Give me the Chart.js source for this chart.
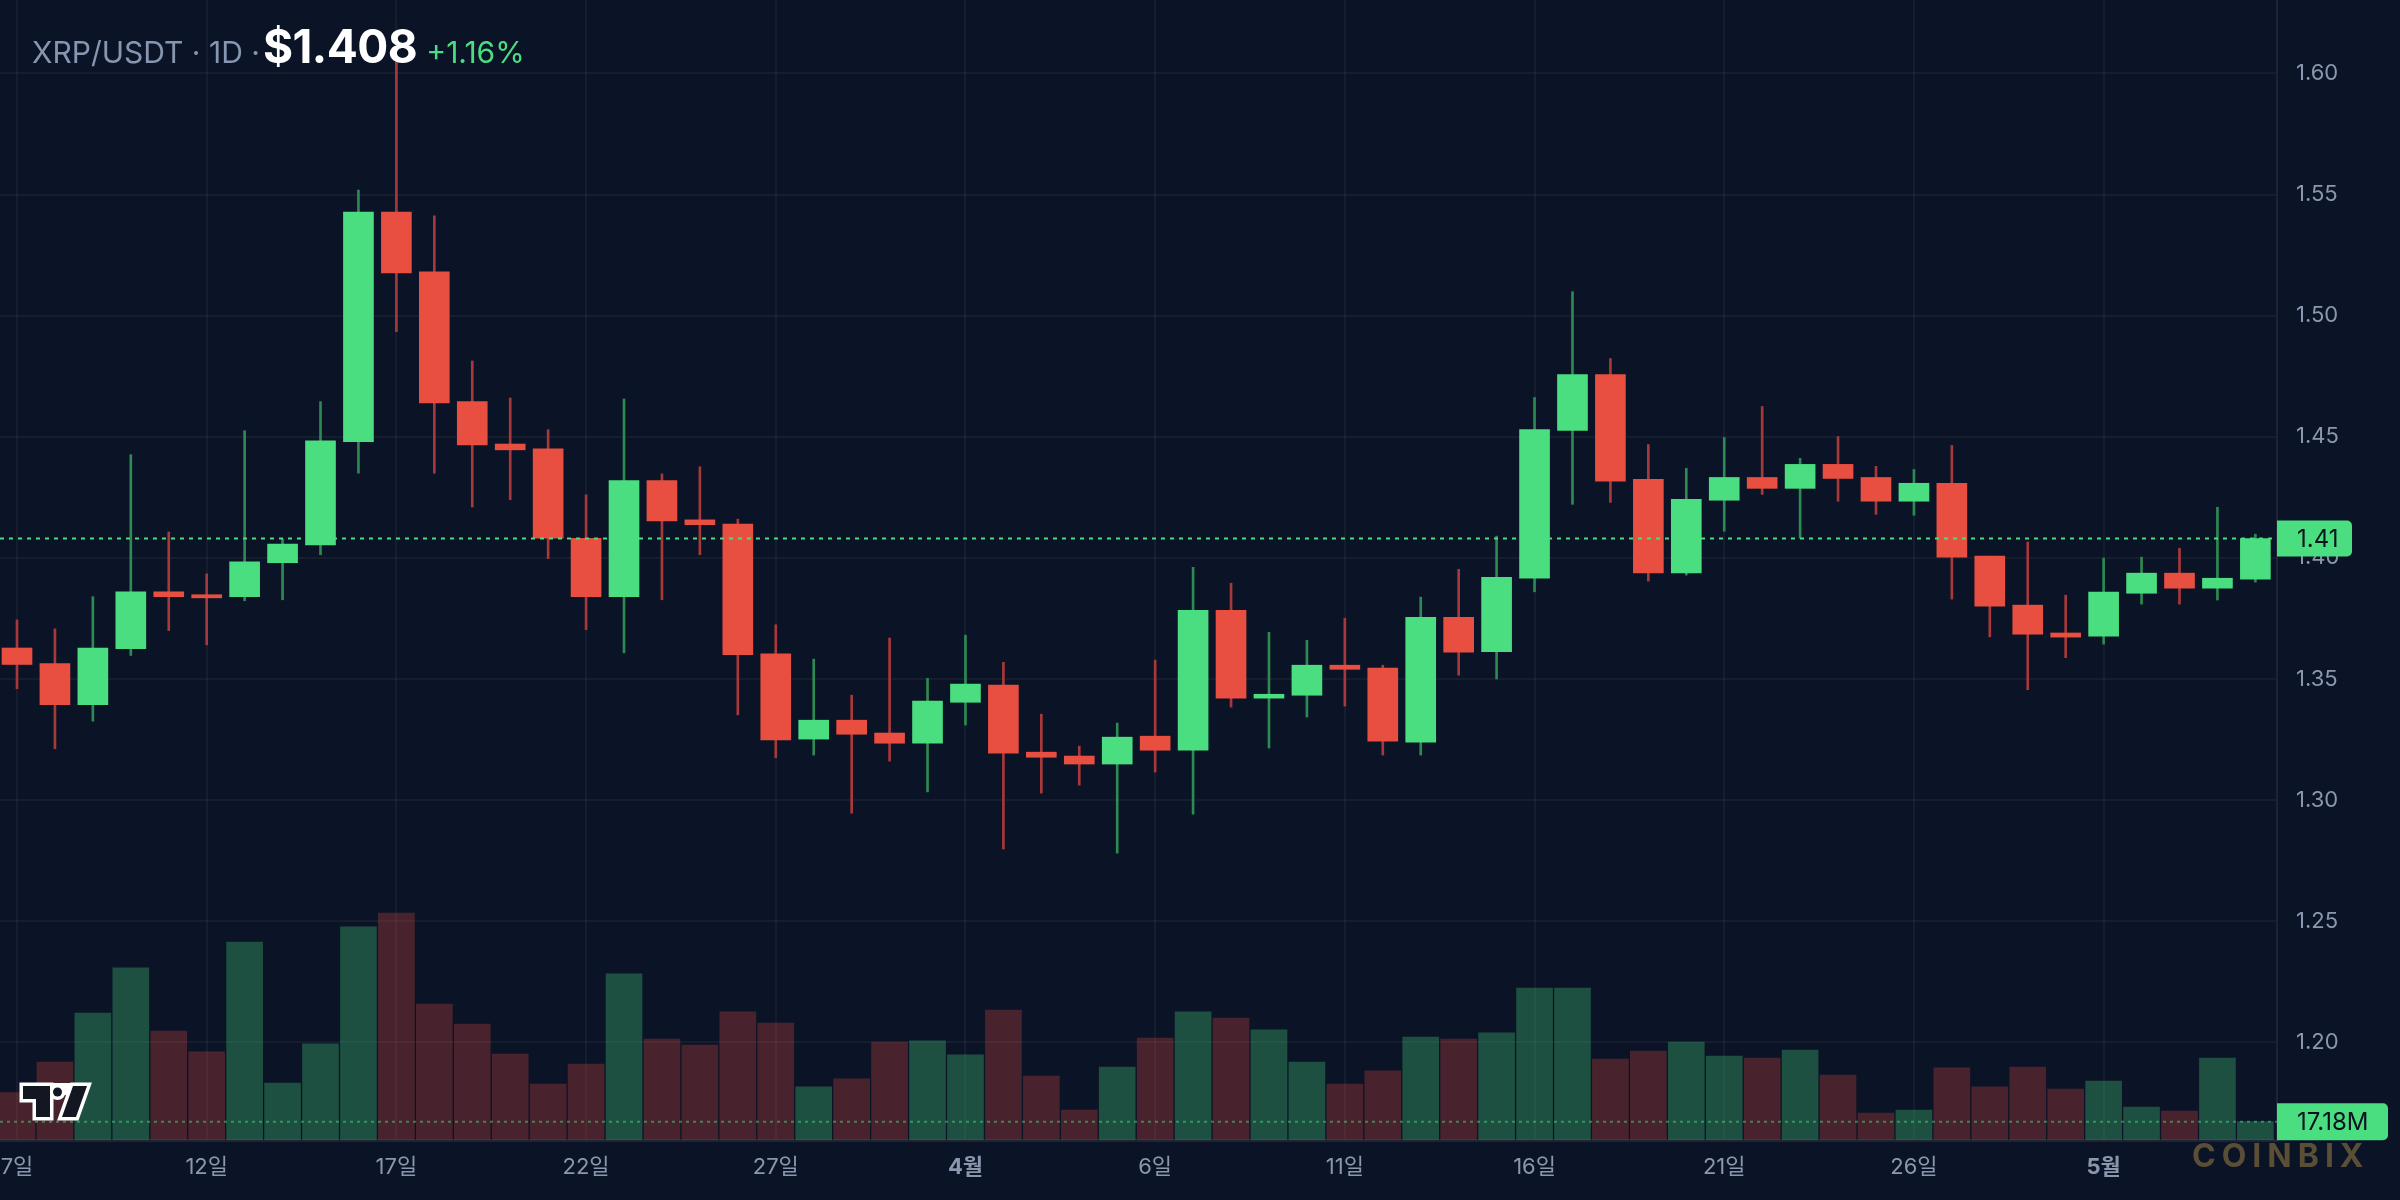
<!DOCTYPE html>
<html lang="ko">
<head>
<meta charset="utf-8">
<title>XRP/USDT 1D</title>
<script src="https://cdn.jsdelivr.net/npm/chart.js@4.4.1/dist/chart.umd.min.js"></script>
<style>
  html, body { margin: 0; padding: 0; background: #0b1326; }
  #wrap { position: relative; width: 2400px; height: 1200px; overflow: hidden; background: #0b1326; }
  #chart { display: block; }
  .title {
    position: absolute; left: 32px; top: 23px;
    font-family: Inter, "Noto Sans", sans-serif; line-height: 46px; white-space: nowrap;
  }
  .title .pair { font-size: 30px; color: #8796b0; }
  .title .price { font-size: 46px; font-weight: 700; color: #ffffff; margin: 0 9px 0 3px; letter-spacing: -0.5px; }
  .title .change { font-size: 30px; color: #4ade80; }
  .watermark {
    position: absolute; left: 2192px; top: 1137px;
    font-family: Inter, "Noto Sans", sans-serif; font-size: 32px; font-weight: 700;
    letter-spacing: 6px; color: #5b4e36; line-height: 38px;
  }
</style>
</head>
<body>
<div id="wrap">
  <canvas id="chart" width="2400" height="1200"></canvas>
  <div class="title"><span class="pair">XRP/USDT · 1D ·</span><span class="price">$1.408</span><span class="change">+1.16%</span></div>
  <div class="watermark">COINBIX</div>
</div>
<script>
// one candle per day, 7 Mar -> 5 May
const dates = [
  '03-07', '03-08', '03-09', '03-10', '03-11', '03-12', '03-13', '03-14', '03-15', '03-16',
  '03-17', '03-18', '03-19', '03-20', '03-21', '03-22', '03-23', '03-24', '03-25', '03-26',
  '03-27', '03-28', '03-29', '03-30', '03-31', '04-01', '04-02', '04-03', '04-04', '04-05',
  '04-06', '04-07', '04-08', '04-09', '04-10', '04-11', '04-12', '04-13', '04-14', '04-15',
  '04-16', '04-17', '04-18', '04-19', '04-20', '04-21', '04-22', '04-23', '04-24', '04-25',
  '04-26', '04-27', '04-28', '04-29', '04-30', '05-01', '05-02', '05-03', '05-04', '05-05',
];

const opens = [
  1.3628, 1.3564, 1.3394, 1.3625, 1.3860, 1.3848, 1.3840, 1.3980, 1.4054, 1.4480,
  1.5428, 1.5181, 1.4645, 1.4470, 1.4450, 1.4081, 1.3840, 1.4319, 1.4157, 1.4140,
  1.3604, 1.3252, 1.3330, 1.3277, 1.3235, 1.3404, 1.3475, 1.3198, 1.3182, 1.3149,
  1.3264, 1.3206, 1.3784, 1.3421, 1.3433, 1.3557, 1.3545, 1.3239, 1.3755, 1.3613,
  1.3916, 1.4526, 1.4757, 1.4324, 1.3938, 1.4238, 1.4332, 1.4287, 1.4386, 1.4332,
  1.4234, 1.4308, 1.4007, 1.3805, 1.3690, 1.3677, 1.3854, 1.3937, 1.3875, 1.3912,
];
const highs = [
  1.3744, 1.3707, 1.3840, 1.4426, 1.4107, 1.3934, 1.4525, 1.4078, 1.4645, 1.5518,
  1.6052, 1.5412, 1.4813, 1.4660, 1.4529, 1.4260, 1.4656, 1.4347, 1.4376, 1.4160,
  1.3724, 1.3582, 1.3433, 1.3669, 1.3503, 1.3681, 1.3569, 1.3355, 1.3223, 1.3318,
  1.3578, 1.3961, 1.3895, 1.3693, 1.3660, 1.3751, 1.3557, 1.3838, 1.3953, 1.4090,
  1.4662, 1.5099, 1.4823, 1.4468, 1.4370, 1.4497, 1.4625, 1.4411, 1.4501, 1.4378,
  1.4365, 1.4464, 1.4007, 1.4065, 1.3846, 1.3999, 1.4003, 1.4040, 1.4209, 1.4098,
];
const lows = [
  1.3460, 1.3212, 1.3326, 1.3597, 1.3700, 1.3641, 1.3823, 1.3827, 1.4013, 1.4350,
  1.4934, 1.4350, 1.4210, 1.4240, 1.3997, 1.3704, 1.3608, 1.3827, 1.4013, 1.3352,
  1.3175, 1.3186, 1.2946, 1.3161, 1.3034, 1.3310, 1.2798, 1.3029, 1.3062, 1.2781,
  1.3116, 1.2942, 1.3384, 1.3215, 1.3343, 1.3388, 1.3186, 1.3186, 1.3516, 1.3500,
  1.3860, 1.4221, 1.4229, 1.3904, 1.3929, 1.4110, 1.4262, 1.4082, 1.4234, 1.4180,
  1.4176, 1.3830, 1.3674, 1.3456, 1.3588, 1.3644, 1.3809, 1.3809, 1.3826, 1.3900,
];
const closes = [
  1.3560, 1.3394, 1.3628, 1.3860, 1.3840, 1.3835, 1.3984, 1.4057, 1.4483, 1.5428,
  1.5176, 1.4640, 1.4466, 1.4446, 1.4081, 1.3840, 1.4319, 1.4153, 1.4137, 1.3600,
  1.3249, 1.3330, 1.3272, 1.3235, 1.3409, 1.3479, 1.3194, 1.3177, 1.3149, 1.3260,
  1.3206, 1.3784, 1.3421, 1.3437, 1.3557, 1.3540, 1.3243, 1.3755, 1.3611, 1.3920,
  1.4530, 1.4757, 1.4317, 1.3938, 1.4242, 1.4332, 1.4287, 1.4386, 1.4328, 1.4234,
  1.4308, 1.4003, 1.3801, 1.3685, 1.3673, 1.3859, 1.3937, 1.3875, 1.3916, 1.4080,
];
// volume in millions
const volumes = [
  44.4, 73.1, 119.0, 161.2, 102.1, 82.5, 185.5, 53.4, 90.0, 199.6,
  212.7, 127.4, 108.7, 80.6, 52.5, 71.2, 155.6, 94.6, 89.0, 120.0,
  109.6, 49.7, 57.2, 91.8, 92.8, 79.7, 121.8, 60.0, 28.1, 68.4,
  95.6, 120.0, 114.3, 103.1, 73.1, 52.5, 64.7, 96.5, 94.6, 100.3,
  142.4, 142.4, 75.9, 83.4, 91.8, 78.7, 76.8, 84.3, 60.9, 25.3,
  28.1, 67.5, 49.7, 68.4, 47.8, 55.3, 30.9, 27.2, 76.8, 17.18,
];

const xTickIndex = [0, 5, 10, 15, 20, 25, 30, 35, 40, 45, 50, 55];
const xTickLabels = ['7일', '12일', '17일', '22일', '27일', '4월', '6일', '11일', '16일', '21일', '26일', '5월'];
const monthTicks = ['4월', '5월'];
const priceTicks = [1.20, 1.25, 1.30, 1.35, 1.40, 1.45, 1.50, 1.55, 1.60];

const GREEN = '#4ade80';
const RED = '#e84f40';
const GRID = 'rgba(255, 255, 255, 0.045)';
const AXIS = '#1c2436';
const LABEL = '#8b97ae';
const FONT = 'Inter, "Noto Sans CJK KR", sans-serif';

const isUp = i => closes[i] >= opens[i];

const overlay = {
  id: 'overlay',
  afterDatasetsDraw(chart) {
    const { ctx, chartArea, scales } = chart;
    const py = scales.y.getPixelForValue(closes.at(-1));
    const vy = scales.yVol.getPixelForValue(volumes.at(-1));
    ctx.save();
    ctx.lineWidth = 2;
    ctx.setLineDash([4, 5]);
    ctx.strokeStyle = GREEN;
    ctx.beginPath();
    ctx.moveTo(chartArea.left, py);
    ctx.lineTo(chartArea.right, py);
    ctx.stroke();

    ctx.setLineDash([3, 4]);
    ctx.strokeStyle = 'rgba(74, 222, 128, 0.5)';
    ctx.beginPath();
    ctx.moveTo(chartArea.left, vy);
    ctx.lineTo(chartArea.right, vy);
    ctx.stroke();
    ctx.restore();
  },
  afterDraw(chart) {
    const { ctx, chartArea, scales } = chart;
    const py = scales.y.getPixelForValue(closes.at(-1));
    const vy = scales.yVol.getPixelForValue(volumes.at(-1));
    const left = chartArea.right;

    ctx.save();
    ctx.fillStyle = GREEN;
    ctx.beginPath();
    ctx.roundRect(left, py - 18, 75, 36, [0, 5, 5, 0]);
    ctx.fill();
    ctx.beginPath();
    ctx.roundRect(left, vy - 18.5, 111, 37, [0, 5, 5, 0]);
    ctx.fill();

    ctx.fillStyle = '#0b1220';
    ctx.font = `24px ${FONT}`;
    ctx.textBaseline = 'middle';
    ctx.fillText(closes.at(-1).toFixed(2), left + 20, py + 1);
    ctx.fillText(`${volumes.at(-1).toFixed(2)}M`, left + 20, vy + 1);

    // small tv logo, bottom left
    const shapes = new Path2D();
    shapes.rect(23, 1086, 27, 13);
    shapes.rect(36, 1086, 14, 31);
    shapes.moveTo(73, 1086);
    shapes.lineTo(87, 1086);
    shapes.lineTo(76, 1117);
    shapes.lineTo(62, 1117);
    shapes.closePath();
    const dot = new Path2D();
    dot.arc(57.5, 1092, 4.5, 0, Math.PI * 2);
    ctx.lineJoin = 'miter';
    ctx.strokeStyle = '#ffffff';
    ctx.lineWidth = 7;
    ctx.stroke(shapes);
    ctx.stroke(dot);
    ctx.fillStyle = '#ffffff';
    ctx.fillRect(48, 1083, 30, 12);
    ctx.fillStyle = '#131722';
    ctx.fill(shapes);
    ctx.fill(dot);
    ctx.restore();
  },
};

new Chart(document.getElementById('chart'), {
  type: 'bar',
  data: {
    datasets: [
      {
        label: 'Body',
        data: dates.map((d, i) => ({ x: i, y: [opens[i], closes[i]] })),
        backgroundColor: dates.map((d, i) => (isUp(i) ? GREEN : RED)),
        barThickness: 30,
        minBarLength: 3,
        grouped: false,
        order: 1,
        yAxisID: 'y',
      },
      {
        label: 'Wick',
        data: dates.map((d, i) => ({ x: i, y: [lows[i], highs[i]] })),
        backgroundColor: dates.map((d, i) => (isUp(i) ? '#2c8a52' : '#a8393a')),
        barThickness: 2,
        grouped: false,
        order: 2,
        yAxisID: 'y',
      },
      {
        label: 'Volume',
        data: dates.map((d, i) => ({ x: i, y: volumes[i] })),
        backgroundColor: dates.map((d, i) => (isUp(i) ? 'rgba(74, 222, 128, 0.3)' : 'rgba(232, 78, 64, 0.28)')),
        barThickness: 36,
        grouped: false,
        order: 3,
        yAxisID: 'yVol',
      },
    ],
  },
  options: {
    responsive: false,
    animation: false,
    devicePixelRatio: 1,
    layout: { padding: 0, autoPadding: false },
    plugins: {
      legend: { display: false },
      tooltip: { enabled: false },
    },
    scales: {
      x: {
        type: 'linear',
        min: -0.448,
        max: 59.57,
        offset: false,
        grid: { color: GRID, lineWidth: 2, drawTicks: false, offset: false },
        border: { color: AXIS, width: 3 },
        afterBuildTicks: scale => {
          scale.ticks = xTickIndex.map(value => ({ value }));
        },
        afterFit: scale => {
          scale.height = 60;
          scale.paddingLeft = 0;
          scale.paddingRight = 0;
        },
        ticks: {
          padding: 14,
          autoSkip: false,
          maxRotation: 0,
          color: LABEL,
          font: ctx => ({
            family: FONT,
            size: 22,
            weight: monthTicks.includes(xTickLabels[ctx.index]) ? '700' : '400',
          }),
          callback: (value, index) => xTickLabels[index],
        },
      },
      y: {
        position: 'right',
        min: 1.1597,
        max: 1.6303,
        grid: { color: GRID, lineWidth: 2, drawTicks: false },
        border: { display: true, color: AXIS, width: 2 },
        afterBuildTicks: scale => {
          scale.ticks = priceTicks.map(value => ({ value }));
        },
        afterFit: scale => {
          scale.width = 123;
          scale.paddingTop = 0;
          scale.paddingBottom = 0;
        },
        ticks: {
          padding: 19,
          color: LABEL,
          font: { family: FONT, size: 22 },
          callback: value => value.toFixed(2),
        },
      },
      yVol: {
        display: false,
        min: 0,
        max: 1068,
        grid: { display: false },
      },
    },
  },
  plugins: [overlay],
});
</script>
</body>
</html>
